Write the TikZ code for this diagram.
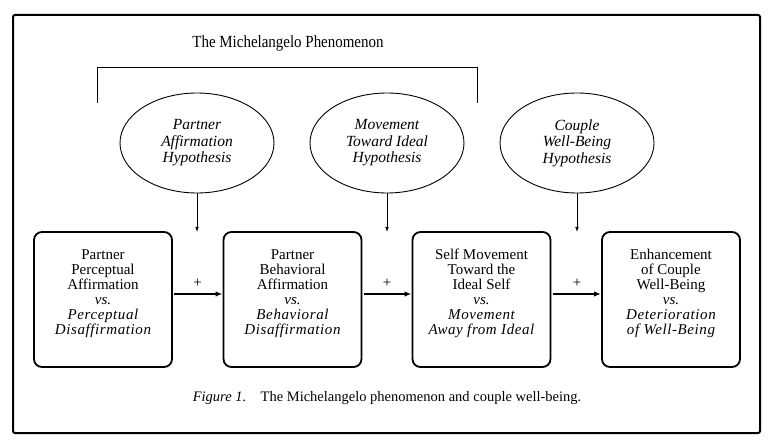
\documentclass[tikz,border=0pt]{standalone}
\usepackage{fontspec}
\setmainfont{Liberation Serif}
\newfontfamily\spacedfont[LetterSpace=4]{Liberation Serif}
\newfontfamily\condfont[FakeStretch=0.88]{Liberation Serif}
\usetikzlibrary{arrows.meta,shapes.geometric}
\begin{document}
\begin{tikzpicture}[x=1pt,y=-1pt,
  frame/.style={draw, line width=2pt, rounded corners=2pt},
  bracketline/.style={draw, line width=0.9pt},
  titletext/.style={font=\condfont\fontsize{17}{19}\selectfont, inner sep=0pt},
  hyp/.style={draw, ellipse, line width=0.9pt, minimum width=154pt, minimum height=100pt,
    inner sep=0pt, outer sep=0pt, align=center, font=\itshape\fontsize{15.5}{16.5}\selectfont},
  stagebox/.style={draw, line width=1.8pt, rounded corners=8pt, minimum width=138pt,
    minimum height=135pt, inner sep=0pt, outer sep=0pt},
  stagetext/.style={align=center, inner sep=0pt, font=\fontsize{15}{15}\selectfont},
  varrow/.style={draw, line width=0.8pt, -{Latex[length=5pt,width=3.6pt]}},
  harrow/.style={draw, line width=1.6pt, -{Latex[length=7pt,width=5.5pt]}, shorten <=2pt, shorten >=1pt},
  plus/.style={inner sep=0pt, font=\fontsize{15}{15}\selectfont},
  captext/.style={inner sep=0pt, font=\fontsize{14.5}{16}\selectfont}
]
\useasboundingbox (0,0) rectangle (773,446);
\draw[frame] (13,15) rectangle (760,433);

\node[titletext] (title) at (288,43) {The Michelangelo Phenomenon};
\coordinate (brA) at (97,103);
\coordinate (brB) at (97,67);
\coordinate (brC) at (477,67);
\coordinate (brD) at (477,103);
\draw[bracketline] (brA) -- (brB) -- (brC) -- (brD);

\node[hyp] (h1) at (197,143) {Partner\\Affirmation\\Hypothesis};
\node[hyp] (h2) at (387,143) {Movement\\Toward Ideal\\Hypothesis};
\node[hyp] (h3) at (577,143) {Couple\\Well-Being\\Hypothesis};

\node[stagebox] (b1) at (103,299.5) {};
\node[stagebox] (b2) at (292.5,299.5) {};
\node[stagebox] (b3) at (481.5,299.5) {};
\node[stagebox] (b4) at (671,299.5) {};

\node[stagetext] (t1) at (103,293.5) {Partner\\Perceptual\\Affirmation\\\textit{vs.}\\{\spacedfont\itshape Perceptual}\\{\spacedfont\itshape Disaffirmation}};
\node[stagetext] (t2) at (292.5,293.5) {Partner\\Behavioral\\Affirmation\\\textit{vs.}\\{\spacedfont\itshape Behavioral}\\{\spacedfont\itshape Disaffirmation}};
\node[stagetext] (t3) at (481.5,293.5) {Self Movement\\Toward the\\Ideal Self\\\textit{vs.}\\{\spacedfont\itshape Movement}\\{\spacedfont\itshape Away from Ideal}};
\node[stagetext] (t4) at (671,293.5) {Enhancement\\of Couple\\Well-Being\\\textit{vs.}\\{\spacedfont\itshape Deterioration}\\{\spacedfont\itshape of Well-Being}};

\coordinate (a1) at (197,232);
\coordinate (a2) at (387,232);
\coordinate (a3) at (577,232);
\draw[varrow] (h1.south) -- (a1);
\draw[varrow] (h2.south) -- (a2);
\draw[varrow] (h3.south) -- (a3);

\draw[harrow] ([yshift=5.5pt]b1.east) -- ([yshift=5.5pt]b2.west);
\draw[harrow] ([yshift=5.5pt]b2.east) -- ([yshift=5.5pt]b3.west);
\draw[harrow] ([yshift=5.5pt]b3.east) -- ([yshift=5.5pt]b4.west);

\node[plus] (p1) at (197.5,283) {+};
\node[plus] (p2) at (387,283) {+};
\node[plus] (p3) at (577,283) {+};

\node[captext] (cap) at (387,398) {\textit{Figure 1.}\quad The Michelangelo phenomenon and couple well-being.};
\end{tikzpicture}
\end{document}
